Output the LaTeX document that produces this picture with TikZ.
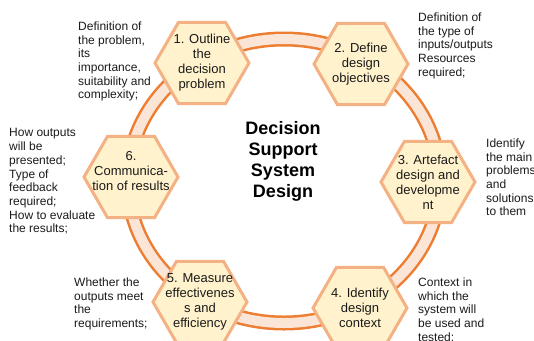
\documentclass[tikz,border=0pt]{standalone}
\usepackage{fontspec}
\setmainfont{Liberation Sans}
\usetikzlibrary{shapes.geometric}

\definecolor{ringline}{HTML}{ED7D31}
\definecolor{ringfill}{HTML}{FBE5D6}
\definecolor{hexline}{HTML}{F4B183}
\definecolor{hexfill}{HTML}{FFF2CC}
\definecolor{ink}{HTML}{1A1A1A}

\tikzset{
  hexbox/.style={regular polygon, regular polygon sides=6, minimum size=94bp,
    inner sep=0pt, draw=hexline, line width=3bp, fill=hexfill},
  hextext/.style={align=center, inner sep=0pt, text=ink,
    font=\fontsize{13bp}{15bp}\selectfont},
  note/.style={anchor=north west, align=left, inner sep=0pt, text=ink,
    font=\fontsize{12bp}{13.7bp}\selectfont},
  title/.style={align=center, inner sep=0pt, text=black,
    font=\fontsize{18bp}{21bp}\selectfont\bfseries}
}

\begin{document}
\begin{tikzpicture}[x=1bp, y=-1bp]
  \useasboundingbox (0,0) rectangle (534,340);
  \clip (0,0) rectangle (534,340);

  % ring behind the steps
  \draw[ringline, line width=15bp] (284,181) ellipse [x radius=156, y radius=142];
  \draw[ringfill, line width=10bp] (284,181) ellipse [x radius=156, y radius=142];

  % centre title
  \node[title] (title) at (283,161) {Decision\\Support\\System\\Design};

  % the six steps
  \node[hexbox, label={[hextext]center:{1. Outline\\the\\decision\\problem}}] (s1) at (202,63) {};
  \node[hexbox, label={[hextext]center:{2. Define\\design\\objectives}}] (s2) at (361,64) {};
  \node[hexbox, label={[hextext]center:{3. Artefact\\design and\\developme\\nt}}] (s3) at (428,182) {};
  \node[hexbox, label={[hextext]center:{4. Identify\\design\\context}}] (s4) at (360,308) {};
  \node[hexbox, label={[hextext]center:{5. Measure\\effectivenes\\s and\\efficiency}}] (s5) at (200,302) {};
  \node[hexbox, label={[hextext, yshift=6bp]center:{6.\\Communica-\\tion of results}}] (s6) at (131,177) {};

  % notes beside each step
  \node[note] (n1) at (78,21.5) {Definition of\\the problem,\\its\\importance,\\suitability and\\complexity;};
  \node[note] (n2) at (418,12.5) {Definition of\\the type of\\inputs/outputs\\Resources\\required;};
  \node[note] (n3) at (486,138.5) {Identify\\the main\\problems\\and\\solutions\\to them};
  \node[note] (n4) at (418,277.5) {Context in\\which the\\system will\\be used and\\tested;};
  \node[note] (n5) at (74,277.5) {Whether the\\outputs meet\\the\\requirements;};
  \node[note] (n6) at (9,128.5) {How outputs\\will be\\presented;\\Type of\\feedback\\required;\\How to evaluate\\the results;};
\end{tikzpicture}
\end{document}
